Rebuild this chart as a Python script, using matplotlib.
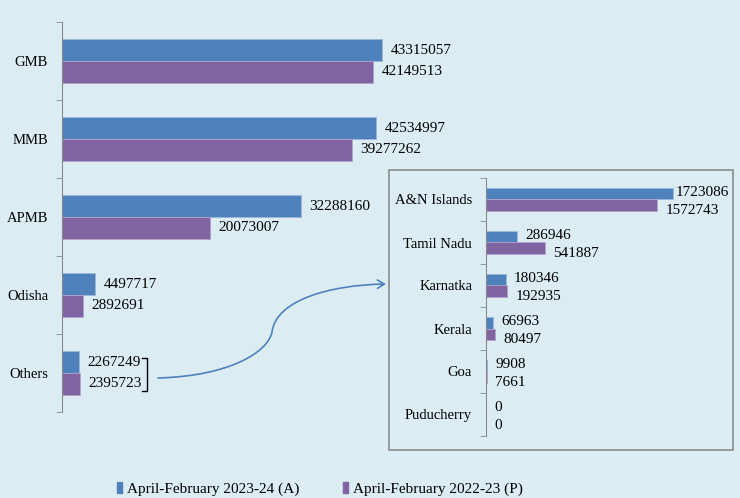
# bar chart with zoom inset for smaller states

import matplotlib.pyplot as plt
from matplotlib.patches import Rectangle, FancyArrowPatch
from matplotlib.path import Path
from matplotlib.lines import Line2D
import numpy as np

plt.rcParams['font.family'] = ['Liberation Serif', 'DejaVu Serif']

main_names = ['GMB', 'MMB', 'APMB', 'Odisha', 'Others']
main_cur = [43315057, 42534997, 32288160, 4497717, 2267249]
main_prev = [42149513, 39277262, 20073007, 2892691, 2395723]

inset_names = ['A&N Islands', 'Tamil Nadu', 'Karnatka', 'Kerala', 'Goa', 'Puducherry']
inset_cur = [1723086, 286946, 180346, 66963, 9908, 0]
inset_prev = [1572743, 541887, 192935, 80497, 7661, 0]

series = ['April-February 2023-24 (A)', 'April-February 2022-23 (P)']

bg = '#dbedf3'
blue = '#4f81bd'
purple = '#8064a2'
W, H = 740, 498


def fx(px):
    return px / W


def fy(py):
    return 1 - py / H


fig = plt.figure(figsize=(7.4, 4.98), dpi=100, facecolor=bg)


def style_axis(ax, n):
    ax.set_facecolor('none')
    for s in ['top', 'right', 'bottom']:
        ax.spines[s].set_visible(False)
    ax.spines['left'].set_color('#888888')
    ax.set_xticks([])
    ax.set_ylim(n - 0.5, -0.5)
    ax.set_yticks(np.arange(n))
    ax.set_yticks(np.arange(n + 1) - 0.5, minor=True)
    ax.tick_params(axis='y', which='major', length=0, pad=10, labelsize=10.5)
    ax.tick_params(axis='y', which='minor', length=4, color='#888888')


# main chart
ax = fig.add_axes([fx(62), fy(412), fx(665), 390 / H])
h = 0.28
y = np.arange(len(main_names))
ax.barh(y - h / 2, main_cur, height=h, color=blue, edgecolor='#9bb7dc', linewidth=0.6)
ax.barh(y + h / 2, main_prev, height=h, color=purple, edgecolor='#b3a2c9', linewidth=0.6)
ax.set_xlim(0, 90e6)
style_axis(ax, len(main_names))
ax.set_yticklabels(main_names)
for yy, v in zip(y, main_cur):
    ax.annotate(str(v), (v, yy - h / 2), xytext=(6, 0), textcoords='offset points',
                va='center', fontsize=11)
for yy, v in zip(y, main_prev):
    ax.annotate(str(v), (v, yy + h / 2), xytext=(6, 0), textcoords='offset points',
                va='center', fontsize=11)

# bracket next to Others labels
fig.add_artist(Line2D([fx(142), fx(147), fx(147), fx(142)],
                      [fy(358), fy(358), fy(391), fy(391)],
                      transform=fig.transFigure, color='black', lw=1))

# curved arrow to inset
verts = [(158, 378), (230, 376), (268, 352), (272, 332),
         (276, 300), (330, 285), (386, 284)]
verts = [(fx(a), fy(b)) for a, b in verts]
codes = [Path.MOVETO, Path.CURVE4, Path.CURVE4, Path.CURVE4,
         Path.CURVE4, Path.CURVE4, Path.CURVE4]
arrow = FancyArrowPatch(path=Path(verts, codes), arrowstyle='->,head_length=5,head_width=3',
                        color=blue, lw=1.2, transform=fig.transFigure)
fig.add_artist(arrow)

# inset box
box = Rectangle((fx(389), fy(450)), fx(344), 280 / H, transform=fig.transFigure,
                facecolor=bg, edgecolor='#8c8c8c', lw=1.2, zorder=1)
fig.add_artist(box)

ax2 = fig.add_axes([fx(486), fy(436), fx(239), 258 / H])
ax2.set_zorder(3)
h2 = 0.27
y2 = np.arange(len(inset_names))
ax2.barh(y2 - h2 / 2, inset_cur, height=h2, color=blue, edgecolor='#9bb7dc', linewidth=0.6)
ax2.barh(y2 + h2 / 2, inset_prev, height=h2, color=purple, edgecolor='#b3a2c9', linewidth=0.6)
ax2.set_xlim(0, 2.2e6)
style_axis(ax2, len(inset_names))
ax2.set_yticklabels(inset_names)
for i, (yy, v) in enumerate(zip(y2, inset_cur)):
    dx = 2 if i == 0 else 6  # longest label squeezed against the box edge
    ax2.annotate(str(v), (v, yy - h2 / 2), xytext=(dx, 1), textcoords='offset points',
                 va='center', fontsize=11)
for yy, v in zip(y2, inset_prev):
    ax2.annotate(str(v), (v, yy + h2 / 2), xytext=(6, -4), textcoords='offset points',
                 va='center', fontsize=11)

# legend
handles = [Rectangle((0, 0), 1, 1, color=blue), Rectangle((0, 0), 1, 1, color=purple)]
fig.legend(handles, series, loc='center left', bbox_to_anchor=(fx(117), fy(489)),
           ncol=2, frameon=False, fontsize=11, handlelength=0.35, handleheight=0.75,
           handletextpad=0.3, columnspacing=2.85, borderaxespad=0, borderpad=0)

plt.savefig('out.png', dpi=100, facecolor=bg)
